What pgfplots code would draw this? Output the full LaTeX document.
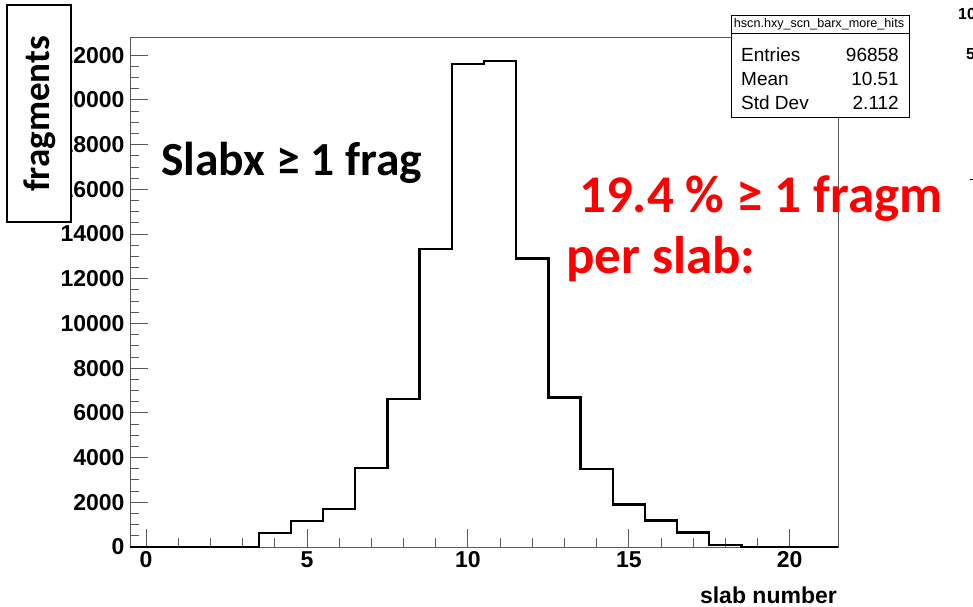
\documentclass[border=0pt]{standalone}
\usepackage{pgfplots}
\pgfplotsset{compat=1.18}
\usepackage{fontspec}
\setmainfont{Liberation Sans}
\newfontfamily\calibri{Carlito}
\definecolor{framegray}{gray}{0.35}
\definecolor{slabred}{RGB}{255,0,0}

% fragments per slab, bins of width 1 centred on the slab number
% (lower bin edge, content)
\begin{document}
\begin{tikzpicture}[x=1pt,y=1pt]
\useasboundingbox (0,0) rectangle (973,606);
\begin{axis}[
  at={(130pt,59pt)}, anchor=south west,
  scale only axis, width=708pt, height=509pt,
  xmin=-0.5, xmax=21.5, ymin=0, ymax=22770,
  xtick={0,5,10,15,20}, minor x tick num=4,
  ytick={0,2000,...,22000}, minor y tick num=3,
  xtick pos=bottom, ytick pos=left,
  tick align=inside,
  major tick length=18pt, minor tick length=9pt,
  axis line style={framegray, line width=1pt},
  every tick/.style={framegray, line width=0.9pt},
  scaled y ticks=false,
  /pgf/number format/1000 sep={},
  /pgf/number format/assume math mode=true,
  tick label style={font=\bfseries\fontsize{23}{23}\selectfont},
  xticklabel style={yshift=-1pt},
  yticklabel style={xshift=-2pt},
  clip=false,
]
\addplot[const plot mark left, black, line width=2.4pt, line join=miter] table {
x     y
-0.5  0
0.5   0
1.5   0
2.5   0
3.5   626
4.5   1150
5.5   1700
6.5   3530
7.5   6620
8.5   13320
9.5   21620
10.5  21730
11.5  12900
12.5  6680
13.5  3480
14.5  1910
15.5  1190
16.5  640
17.5  90
18.5  0
19.5  0
20.5  0
21.5  0
};
\end{axis}

% axis title
\node[anchor=base east, inner sep=0, font=\bfseries\fontsize{23}{23}\selectfont] at (837,3) {slab number};

% statistics box
\draw[black, line width=0.8pt, fill=white] (731,489) rectangle (909,591);
\draw[black, line width=0.8pt] (731,573) -- (909,573);
\node[font=\fontsize{12.6}{12.6}\selectfont, inner sep=0] at (819,582) {hscn.hxy\_scn\_barx\_more\_hits};
\begin{scope}[every node/.style={inner sep=0, font=\fontsize{19}{19}\selectfont}]
  \node[anchor=base west] at (741,544) {Entries};
  \node[anchor=base east] at (899,544) {96858};
  \node[anchor=base west] at (741,520) {Mean};
  \node[anchor=base east] at (899,520) {10.51};
  \node[anchor=base west] at (741,496) {Std Dev};
  \node[anchor=base east] at (899,496) {2.112};
\end{scope}

% y axis title in a framed box
\draw[black, line width=1.2pt, fill=white] (7,384) rectangle (71,601);
\node[rotate=90, inner sep=0, font=\calibri\bfseries\fontsize{37}{37}\selectfont] at (39.5,492) {fragments};

% annotations
\node[anchor=base west, inner sep=0, font=\calibri\bfseries\fontsize{47.5}{47.5}\selectfont] at (161,430) {Slabx ≥ 1 frag};
\node[anchor=base west, inner sep=0, text=slabred, font=\calibri\bfseries\fontsize{53}{53}\selectfont] at (579,394) {19.4 \% ≥ 1 fragm};
\node[anchor=base west, inner sep=0, text=slabred, font=\calibri\bfseries\fontsize{53}{53}\selectfont] at (566,333) {per slab:};

% neighbouring panel labels at the right edge
\node[anchor=base west, inner sep=0, font=\bfseries\fontsize{16}{16}\selectfont] at (958,586) {10};
\node[anchor=base west, inner sep=0, font=\bfseries\fontsize{16}{16}\selectfont] at (966,546) {5};
\draw[black, line width=1pt] (970,426) -- (973,426);
\end{tikzpicture}
\end{document}
